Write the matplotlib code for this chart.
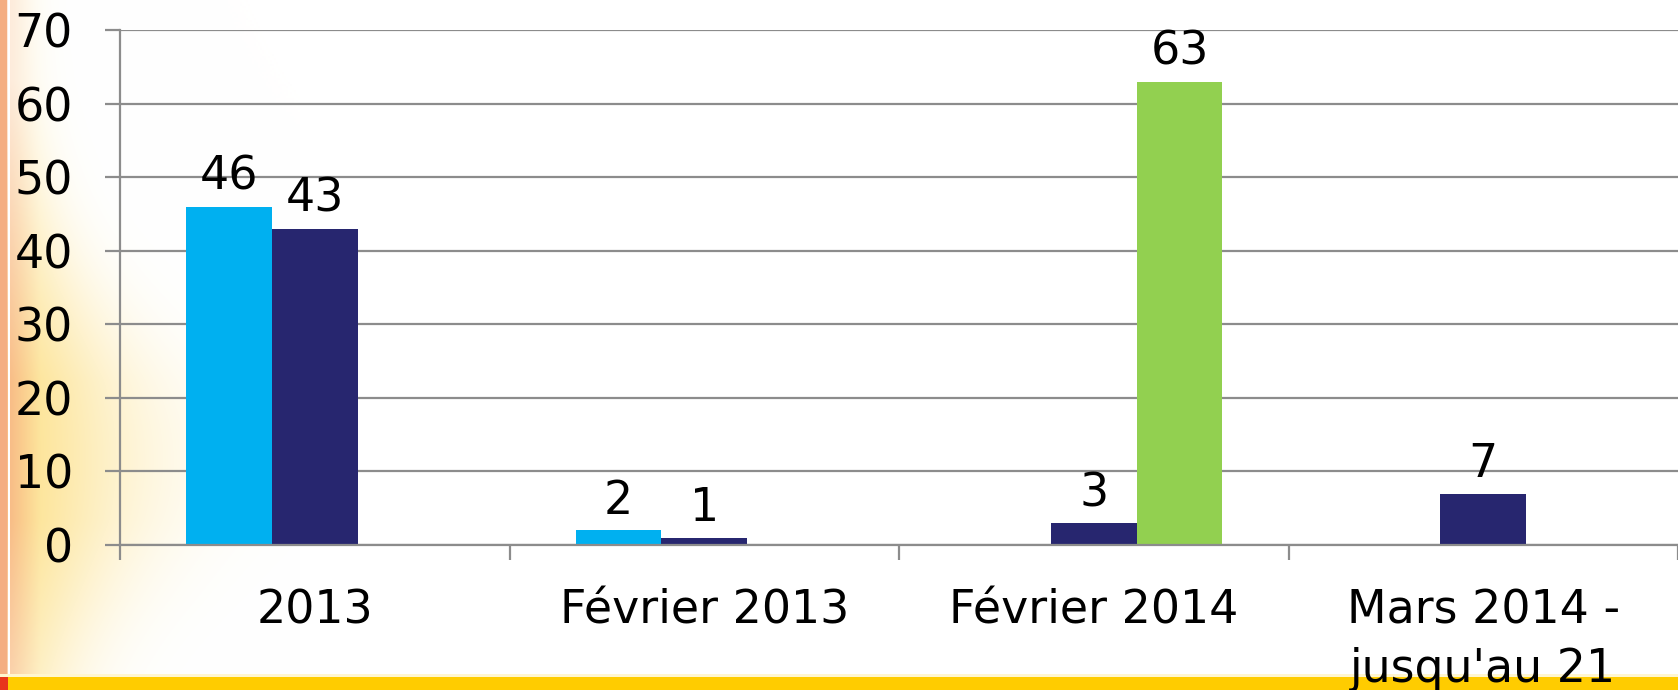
import numpy as np
import matplotlib
matplotlib.use("Agg")
import matplotlib.pyplot as plt

# ── Data ─────────────────────────────────────────────────────────────────────
CATEGORIES = ["2013", "Février 2013", "Février 2014", "Mars 2014 -\njusqu'au 21"]
SERIES_1 = [46, 2, np.nan, np.nan]      # light blue
SERIES_2 = [43, 1, 3, 7]                # navy
SERIES_3 = [np.nan, np.nan, 63, np.nan]  # green
Y_TICKS = [0, 10, 20, 30, 40, 50, 60, 70]

# ── Style ────────────────────────────────────────────────────────────────────
COLS = ["#00B0F0", "#27266F", "#92D050"]
GRID = "#8C8C8C"
FS = 33
W, H, DPI = 1678, 690, 100
BAR_W = 0.22

fig = plt.figure(figsize=(W / DPI, H / DPI), dpi=DPI)

# background decoration: orange/yellow glow on the left, yellow band at bottom
bg = fig.add_axes([0, 0, 1, 1], zorder=0)
bg.set_xlim(0, W); bg.set_ylim(H, 0); bg.axis("off")
GW = 300
yy, xx = np.mgrid[0:H:2, 0:GW:2].astype(float)
dx = np.clip(xx - 10, 0, None)
strength = 0.25 + 0.6 * np.clip((yy - 80) / 300.0, 0, 1) - 0.25 * np.clip((yy - 520) / 150.0, 0, 1)
reach = 25 + 80 * np.exp(-((yy - 450) / 180.0) ** 2) + 25 * np.clip(yy / 600.0, 0, 1)
alpha = strength * np.exp(-(dx / reach) ** 1.6)
orange = np.array([0.97, 0.70, 0.45])
yellow = np.array([0.99, 0.87, 0.50])
mix = np.clip(dx / 30.0, 0, 1)[..., None]
col = orange * (1 - mix) + yellow * mix
rgb = col * alpha[..., None] + (1 - alpha[..., None])
bg.imshow(rgb, extent=[0, GW, H, 0], aspect="auto", interpolation="bilinear")
bg.add_patch(plt.Rectangle((0, 0), 7, H, color="#F4AE82", lw=0))
bg.add_patch(plt.Rectangle((8, 0), 2, H, color="white", lw=0))
bg.add_patch(plt.Rectangle((0, 677), W, 13, color="#FFCC00", lw=0))
bg.add_patch(plt.Rectangle((0, 674), W, 3, color="#FFF6D0", lw=0))
bg.add_patch(plt.Rectangle((0, 677), 8, 13, color="#E8341C", lw=0))

# ── Chart ────────────────────────────────────────────────────────────────────
ax = fig.add_axes([120 / W, 1 - 545 / H, 1 - 120 / W, (545 - 30) / H], zorder=1)
ax.patch.set_alpha(0)
x = np.arange(len(CATEGORIES))
for i, (vals, c) in enumerate(zip([SERIES_1, SERIES_2, SERIES_3], COLS)):
    pos = x + (i - 1) * BAR_W
    ax.bar(pos, vals, width=BAR_W, color=c, zorder=2)
    for p, v in zip(pos, vals):
        if not np.isnan(v):
            ax.annotate(f"{v:g}", (p, v), xytext=(0, 12), textcoords="offset points",
                        ha="center", va="baseline", fontsize=FS, zorder=3)

ax.set_xlim(-0.5, len(CATEGORIES) - 0.5)
ax.set_ylim(0, 70)
ax.set_yticks(Y_TICKS)
ax.yaxis.grid(True, color=GRID, lw=1.6, zorder=1)
ax.set_axisbelow(True)
for s in ["top", "right"]:
    ax.spines[s].set_visible(False)
for s in ["left", "bottom"]:
    ax.spines[s].set_color(GRID)
    ax.spines[s].set_linewidth(1.6)
ax.tick_params(axis="y", direction="out", length=11, width=1.6, color=GRID,
               pad=23, labelsize=FS)
ax.set_xticks(x)
ax.set_xticklabels(CATEGORIES, fontsize=FS, linespacing=1.4, va="top")
ax.set_xticks(np.arange(-0.5, len(CATEGORIES), 1.0), minor=True)
ax.tick_params(axis="x", which="major", length=0, pad=31)
ax.tick_params(axis="x", which="minor", direction="out", length=11, width=1.6, color=GRID)
for lbl in ax.get_xticklabels():
    lbl.set_clip_on(False)

fig.savefig("out.png", dpi=DPI)
